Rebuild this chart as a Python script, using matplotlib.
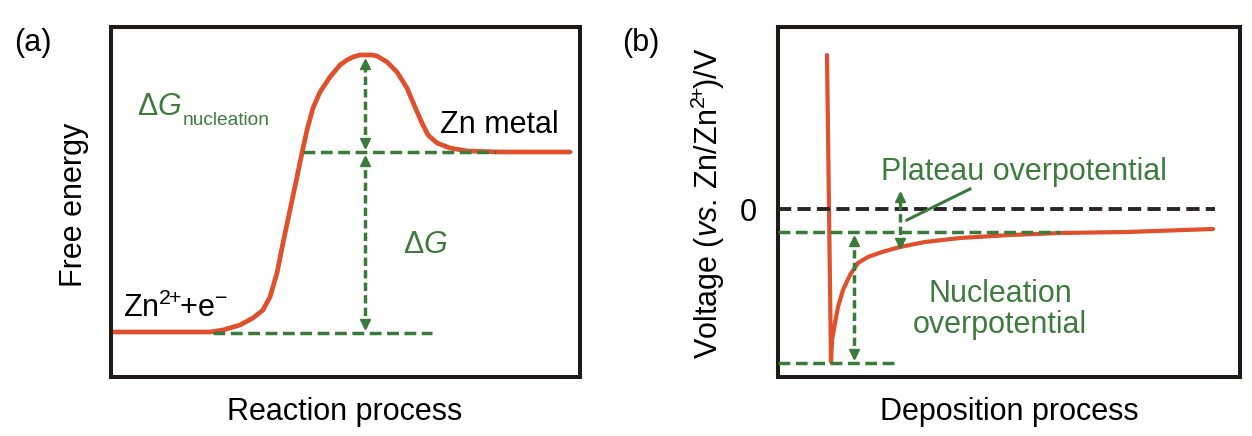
import matplotlib
matplotlib.use("Agg")
import matplotlib.pyplot as plt

plt.rcParams['font.family'] = ['Liberation Sans', 'DejaVu Sans']
plt.rcParams['mathtext.fontset'] = 'custom'
plt.rcParams['mathtext.rm'] = 'Liberation Sans'
plt.rcParams['mathtext.it'] = 'Liberation Sans:italic'
plt.rcParams['mathtext.bf'] = 'Liberation Sans:bold'

# ---------------- data (arbitrary units) ----------------
# Panel (a): free energy vs reaction coordinate
a_x = [2, 99, 112, 129, 142, 152, 159, 166, 172, 179, 186, 191, 196, 202, 209,
       219, 229, 236, 242, 249, 256, 261, 266, 271, 276, 286, 296, 304, 311, 317,
       326, 339, 356, 389, 459]
a_y = [45, 45, 47, 52, 59, 67, 80, 104, 134, 167, 200, 224, 247, 269, 285,
       300, 312, 317, 320, 322, 322, 322, 321, 318, 315, 305, 289, 270, 254, 242,
       234, 229, 226, 225, 225]
a_initial = 44          # Zn2+ + e- level
a_final = 225           # Zn metal level
a_peak = 317            # nucleation barrier top
a_arrow_x = 254
a_final_span = (192, 385)
a_initial_span = (102, 321)

# Panel (b): voltage vs deposition time
b_x = [49, 53, 54, 57, 60, 65, 72, 80, 90, 104, 122, 147, 182, 232, 282, 349, 435]
b_y = [322, 15, 37, 54, 70, 87, 102, 114, 120, 125, 130, 135, 139, 142, 144, 145, 148]
b_zero = 168
b_plateau = 145
b_min = 14
b_zero_span = (0, 437)
b_plateau_span = (0, 282)
b_min_span = (0, 117)
b_nuc_arrow_x = 76
b_plat_arrow_x = 122
b_plat_arrow_top = 184
b_plat_arrow_bottom = 128
b_pointer_x = [129, 192]
b_pointer_y = [157, 188]

# ---------------- styling ----------------
W, H = 1252, 436
RED = '#E0502C'
GREEN = '#3A7A3A'
TGREEN = '#3E7C3E'
BLACKD = '#2A2424'
FS = 22
DASH = (3.4, 1.6)
SUP = r'$^{2\!\!+\!\!}$'

fig = plt.figure(figsize=(W / 100, H / 100), dpi=100)
axa = fig.add_axes([111 / W, (H - 377) / H, 469 / W, 350 / H])
axb = fig.add_axes([778 / W, (H - 377) / H, 462 / W, 350 / H])

for ax in (axa, axb):
    for s in ax.spines.values():
        s.set_linewidth(2.9)
        s.set_color('#1E1A18')
    ax.set_xticks([])
    ax.set_yticks([])

axa.set_xlim(0, 469)
axa.set_ylim(0, 350)
axb.set_xlim(0, 462)
axb.set_ylim(0, 350)


def hdash(ax, y, span, color=GREEN, lw=2.5):
    ax.plot(span, [y, y], color=color, lw=lw, dashes=DASH, zorder=3,
            dash_capstyle='butt')


def varrow(ax, x, y0, y1, up=True, down=True):
    ax.plot([x, x], [y0, y1], color=GREEN, lw=2.5, dashes=(2.4, 1.2), zorder=3)
    lo, hi = min(y0, y1), max(y0, y1)
    if up:
        ax.plot([x], [hi - 4], marker='^', ms=6.5, color=GREEN, mec=GREEN, zorder=4)
    if down:
        ax.plot([x], [lo + 4], marker='v', ms=6.5, color=GREEN, mec=GREEN, zorder=4)


# ---- panel (a)
axa.plot(a_x, a_y, color=RED, lw=3.4, zorder=2, solid_capstyle='round',
         solid_joinstyle='round')
hdash(axa, a_final, a_final_span)
hdash(axa, a_initial, a_initial_span)
varrow(axa, a_arrow_x, a_final + 5, a_peak)
varrow(axa, a_arrow_x, a_initial + 5, a_final - 5)

tg = axa.text(26, 262, r'$\Delta\mathit{G}$', color=TGREEN,
              fontsize=FS, ha='left', va='baseline')
axa.annotate('nucleation', xy=(1, 0), xycoords=tg, xytext=(1, -2),
             textcoords='offset points', color=TGREEN, fontsize=13.8,
             ha='left', va='baseline')
axa.text(329, 244, 'Zn metal', color='black', fontsize=FS, ha='left', va='baseline')
axa.text(292, 124, r'$\Delta\mathit{G}$', color=TGREEN, fontsize=FS,
         ha='left', va='baseline')
axa.text(12, 60, 'Zn' + SUP + '+e$^{-}$', color='black', fontsize=FS,
         ha='left', va='baseline')

# ---- panel (b)
axb.plot(b_x, b_y, color=RED, lw=3.0, zorder=2, solid_capstyle='round',
         solid_joinstyle='round')
hdash(axb, b_zero, b_zero_span, color=BLACKD, lw=2.8)
hdash(axb, b_plateau, b_plateau_span)
hdash(axb, b_min, b_min_span)
varrow(axb, b_nuc_arrow_x, b_min + 5, b_plateau - 5)
varrow(axb, b_plat_arrow_x, b_plat_arrow_bottom + 2, b_plat_arrow_top)
axb.plot(b_pointer_x, b_pointer_y, color=GREEN, lw=2.2, zorder=4)

axb.text(103, 197, 'Plateau overpotential', color=TGREEN, fontsize=FS,
         ha='left', va='baseline')
axb.text(222, 75, 'Nucleation', color=TGREEN, fontsize=FS, ha='center', va='baseline')
axb.text(222, 44, 'overpotential', color=TGREEN, fontsize=FS, ha='center', va='baseline')

axb.set_yticks([b_zero])
axb.set_yticklabels(['0'], fontsize=FS)
axb.tick_params(axis='y', length=0, pad=15)


def ftext(x, y, s, **kw):
    fig.text(x / W, 1 - y / H, s, fontsize=FS, ha='center', va='center', **kw)


ftext(33, 43, '(a)')
ftext(641, 43, '(b)')
ftext(345, 412, 'Reaction process')
ftext(1009, 412, 'Deposition process')
ftext(74, 205, 'Free energy', rotation=90)
ftext(708, 203, r'Voltage ($\mathit{vs.}\,$Zn/Zn' + SUP + ')/V', rotation=90)

fig.savefig('out.png', dpi=100)
